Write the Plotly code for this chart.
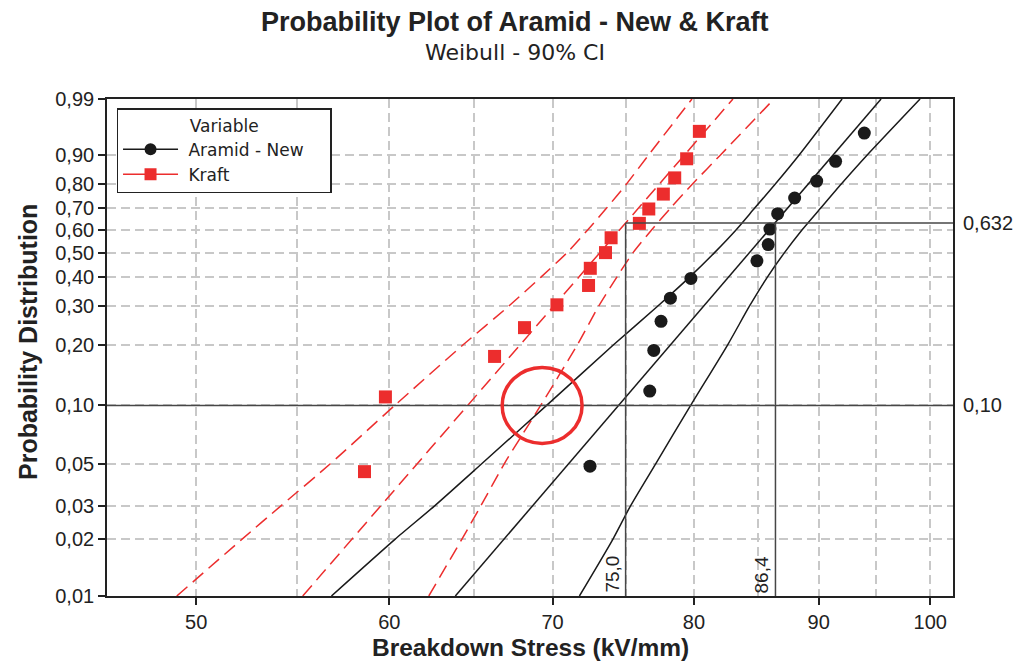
import math
import plotly.graph_objects as go

# ---------------- data ----------------
aramid_x = [72.52, 76.73, 77.02, 77.55, 78.24, 79.77, 84.90, 85.81, 85.95, 86.58, 87.98, 89.83, 91.45, 93.96]
aramid_p = [0.0486, 0.1181, 0.1875, 0.2569, 0.3264, 0.3958, 0.4653, 0.5347, 0.6042, 0.6736, 0.7431, 0.8125, 0.8819, 0.9514]

kraft_x = [58.61, 59.78, 66.27, 68.17, 70.29, 72.42, 72.54, 73.59, 73.98, 75.98, 76.66, 77.72, 78.56, 79.45, 80.41]
kraft_p = [0.0455, 0.1104, 0.1753, 0.2403, 0.3052, 0.3701, 0.4351, 0.5000, 0.5649, 0.6299, 0.6948, 0.7597, 0.8247, 0.8896, 0.9545]

fit_p = [0.01, 0.99]
aramid_fit_x = [63.86, 95.46]
kraft_fit_x = [55.29, 83.00]

ci_p = [0.01, 0.02, 0.03, 0.05, 0.10, 0.20, 0.30, 0.40, 0.50, 0.60, 0.70, 0.80, 0.90, 0.99]
kraft_ci_lo = [49.09, 52.20, 54.15, 56.75, 60.31, 64.35, 67.14, 69.22, 70.97, 72.36, 73.68, 75.05, 76.63, 79.85]
kraft_ci_hi = [62.28, 64.25, 65.41, 66.88, 69.22, 71.67, 73.10, 74.37, 75.53, 76.86, 78.27, 79.87, 82.01, 86.28]
aramid_ci_lo = [56.81, 60.32, 62.61, 65.47, 69.61, 74.17, 77.28, 79.65, 81.57, 83.24, 84.74, 86.37, 88.34, 92.01]
aramid_ci_hi = [71.80, 74.10, 75.34, 77.16, 79.75, 82.60, 84.29, 85.73, 87.14, 88.59, 90.19, 91.92, 94.20, 99.04]

ref_x = [75.0, 86.4]
ref_x_labels = ["75,0", "86,4"]
ref_p = [0.10, 0.632]
ref_p_labels = ["0,10", "0,632"]

# highlight circle bounding box (data units)
circle_x = [66.75, 71.98]
circle_p = [0.0638, 0.1549]

y_ticks = [0.01, 0.02, 0.03, 0.05, 0.10, 0.20, 0.30, 0.40, 0.50, 0.60, 0.70, 0.80, 0.90, 0.99]
y_ticktext = ["0,01", "0,02", "0,03", "0,05", "0,10", "0,20", "0,30", "0,40", "0,50", "0,60", "0,70", "0,80", "0,90", "0,99"]
x_ticks = [50, 60, 70, 80, 90, 100]
x_ticktext = ["50", "60", "70", "80", "90", "100"]
x_minor = [55, 65, 75, 85, 95]
x_range = [45.96, 102.17]


def weib(p):
    """Weibull probability-paper coordinate."""
    return math.log(-math.log(1.0 - p))


RED = "#EC2D2D"
BLACK = "#1A1A1A"
GRID = "#C8C8C8"
REF = "#474747"
NB = "\u00a0"

fig = go.Figure()

# CI bands and fits
for xs, col, dash in [(kraft_ci_lo, RED, "14px,7px"), (kraft_ci_hi, RED, "14px,7px"),
                      (aramid_ci_lo, BLACK, "solid"), (aramid_ci_hi, BLACK, "solid")]:
    fig.add_trace(go.Scatter(x=xs, y=[weib(p) for p in ci_p], mode="lines",
                             line=dict(color=col, width=1.5, dash=dash, shape="spline", smoothing=0.6),
                             showlegend=False, hoverinfo="skip"))

fig.add_trace(go.Scatter(x=kraft_fit_x, y=[weib(p) for p in fit_p], mode="lines",
                         line=dict(color=RED, width=1.5, dash="14px,7px"), showlegend=False))
fig.add_trace(go.Scatter(x=aramid_fit_x, y=[weib(p) for p in fit_p], mode="lines",
                         line=dict(color=BLACK, width=1.5), showlegend=False))

# points
fig.add_trace(go.Scatter(x=aramid_x, y=[weib(p) for p in aramid_p], mode="markers",
                         marker=dict(symbol="circle", size=13, color=BLACK), showlegend=False))
fig.add_trace(go.Scatter(x=kraft_x, y=[weib(p) for p in kraft_p], mode="markers",
                         marker=dict(symbol="square", size=13, color=RED), showlegend=False))

# legend entries
fig.add_trace(go.Scatter(x=[None], y=[None], mode="lines+markers", name=NB + "Aramid - New" + NB * 4,
                         line=dict(color=BLACK, width=1.5), marker=dict(symbol="circle", size=12, color=BLACK)))
fig.add_trace(go.Scatter(x=[None], y=[None], mode="lines+markers", name=NB + "Kraft",
                         line=dict(color=RED, width=1.5), marker=dict(symbol="square", size=12, color=RED)))

shapes = []
shapes.append(dict(type="line", xref="paper", yref="y", x0=0, x1=1,
                   y0=weib(ref_p[0]), y1=weib(ref_p[0]), line=dict(color=REF, width=1.5)))
shapes.append(dict(type="line", xref="x", yref="y", x0=ref_x[0], x1=x_range[1],
                   y0=weib(ref_p[1]), y1=weib(ref_p[1]), line=dict(color=REF, width=1.5)))
for rx in ref_x:
    shapes.append(dict(type="line", xref="x", yref="y", x0=rx, x1=rx,
                       y0=weib(y_ticks[0]), y1=weib(ref_p[1]), line=dict(color=REF, width=1.5)))
shapes.append(dict(type="circle", xref="x", yref="y",
                   x0=circle_x[0], x1=circle_x[1], y0=weib(circle_p[0]), y1=weib(circle_p[1]),
                   line=dict(color=RED, width=3.5)))

annotations = []
annotations.append(dict(text="<b>Probability Plot of Aramid - New &amp; Kraft</b>", xref="paper", yref="paper",
                        x=0.482, y=1.155, xanchor="center", yanchor="middle", showarrow=False,
                        font=dict(family="Liberation Sans, Arial", size=27, color="#222")))
annotations.append(dict(text="Weibull - 90% CI", xref="paper", yref="paper",
                        x=0.482, y=1.0926, xanchor="center", yanchor="middle", showarrow=False,
                        font=dict(family="DejaVu Sans", size=22, color="#222")))
annotations.append(dict(text="<b>Breakdown Stress (kV/mm)</b>", xref="paper", yref="paper",
                        x=0.5, y=-0.1046, xanchor="center", yanchor="middle", showarrow=False,
                        font=dict(family="Liberation Sans, Arial", size=24.5, color="#222")))
annotations.append(dict(text="<b>Probability Distribution</b>", xref="paper", yref="paper",
                        x=-0.0934, y=0.511, xanchor="center", yanchor="middle", showarrow=False,
                        textangle=-90, font=dict(family="Liberation Sans, Arial", size=25, color="#222")))
for p, lab in zip(ref_p, ref_p_labels):
    annotations.append(dict(text=lab, xref="paper", yref="y", x=1, y=weib(p), xanchor="left",
                            yanchor="middle", xshift=8, showarrow=False,
                            font=dict(family="Liberation Sans, Arial", size=20, color="#222")))
for rx, lab in zip(ref_x, ref_x_labels):
    annotations.append(dict(text=lab, xref="x", yref="y", x=math.log10(rx), y=weib(y_ticks[0]),
                            xanchor="right", yanchor="bottom", textangle=-90, xshift=-1, yshift=1,
                            showarrow=False, font=dict(family="Liberation Sans, Arial", size=19, color="#222")))

axis_common = dict(showline=True, linecolor="#222", linewidth=1.7, mirror=True, ticks="outside",
                   ticklen=7, tickwidth=1.5, tickcolor="#222", showgrid=True, gridcolor=GRID,
                   gridwidth=1.5, griddash="9px,5px", zeroline=False, automargin=False,
                   tickfont=dict(family="Liberation Sans, Arial", size=20, color="#222"))

fig.update_layout(
    template="none",
    width=1016, height=663,
    margin=dict(l=107, r=63, t=99, b=67, pad=0),
    paper_bgcolor="white", plot_bgcolor="white",
    xaxis=dict(type="log", range=[math.log10(x_range[0]), math.log10(x_range[1])],
               tickmode="array", tickvals=x_ticks, ticktext=x_ticktext,
               minor=dict(tickmode="array", tickvals=x_minor, showgrid=True, gridcolor=GRID,
                          gridwidth=1.5, griddash="9px,5px", ticks=""),
               **axis_common),
    yaxis=dict(type="linear", range=[weib(y_ticks[0]), weib(y_ticks[-1])],
               tickmode="array", tickvals=[weib(p) for p in y_ticks], ticktext=y_ticktext,
               **axis_common),
    legend=dict(x=0.0115, y=0.9813, xanchor="left", yanchor="top", bgcolor="white",
                bordercolor="#222", borderwidth=1.3, itemwidth=55,
                font=dict(family="DejaVu Sans", size=17, color="#222"),
                title=dict(text="Variable", side="top center",
                           font=dict(family="DejaVu Sans", size=17, color="#222"))),
    shapes=shapes,
    annotations=annotations,
    showlegend=True,
)

fig.write_html("out.html")
